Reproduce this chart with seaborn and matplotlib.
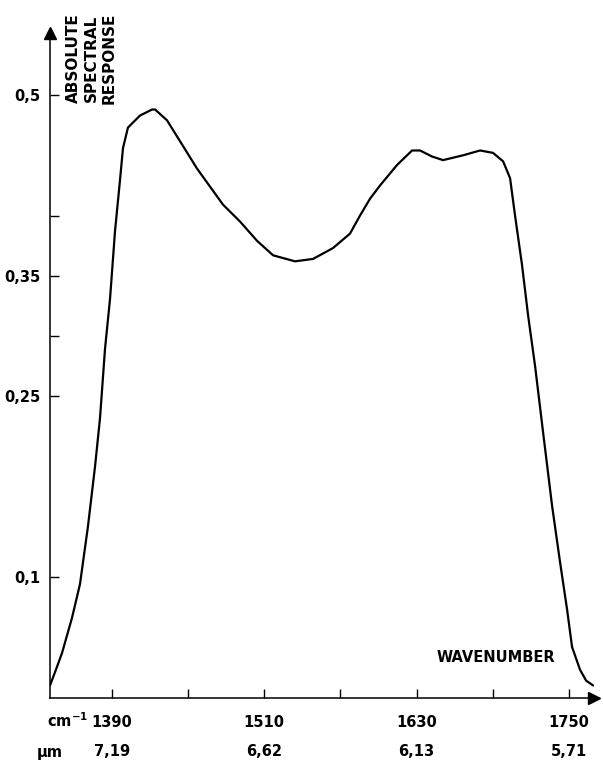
import numpy as np
import pandas as pd
import seaborn as sns
import matplotlib.pyplot as plt

# curve (wavenumber in cm-1, absolute spectral response)
wavenumber = [1341.2, 1345.5, 1350.7, 1358.5, 1364.8, 1371.1, 1376.7, 1380.6, 1384.5,
              1388.5, 1392.4, 1396.3, 1398.7, 1402.6, 1412.1, 1421.6, 1424.0,
              1433.4, 1457.0, 1477.5, 1490.9, 1504.3, 1516.9, 1534.2, 1548.4,
              1564.1, 1577.5, 1585.4, 1593.3, 1601.2, 1614.6, 1626.4, 1632.7,
              1642.1, 1650.8, 1666.6, 1680.0, 1690.2, 1698.1, 1703.6, 1707.5,
              1713.0, 1717.8, 1723.3, 1729.6, 1736.7, 1743.0, 1748.5, 1752.4,
              1758.7, 1763.5, 1769.0]
response = [0.010, 0.022, 0.037, 0.066, 0.094, 0.142, 0.192, 0.232, 0.289,
            0.331, 0.387, 0.429, 0.456, 0.473, 0.483, 0.488, 0.488,
            0.479, 0.439, 0.409, 0.395, 0.379, 0.367, 0.362, 0.364,
            0.373, 0.385, 0.400, 0.414, 0.425, 0.442, 0.454, 0.454,
            0.449, 0.446, 0.450, 0.454, 0.452, 0.445, 0.431, 0.400,
            0.359, 0.317, 0.275, 0.220, 0.159, 0.112, 0.073, 0.042,
            0.023, 0.014, 0.010]

x_ticks = [1390, 1450, 1510, 1570, 1630, 1690, 1750]
x_labels = ["1390", "", "1510", "", "1630", "", "1750"]
um_pos = [1390, 1510, 1630, 1750]
um_labels = ["7,19", "6,62", "6,13", "5,71"]
y_ticks = [0.1, 0.25, 0.3, 0.35, 0.4, 0.5]
y_labels = ["0,1", "0,25", "", "0,35", "", "0,5"]

sns.set_style("ticks")
plt.rcParams['font.family'] = ['DejaVu Sans']
plt.rcParams['font.weight'] = 'bold'
plt.rcParams['text.color'] = 'black'
plt.rcParams['xtick.color'] = 'black'
plt.rcParams['ytick.color'] = 'black'

W, H = 603, 763
fig = plt.figure(figsize=(W / 100, H / 100), dpi=100)
ax = fig.add_axes([50 / W, 1 - 697.5 / H, 544 / W, 664.5 / H])

df = pd.DataFrame({"wn": wavenumber, "r": response})
sns.lineplot(data=df, x="wn", y="r", color="black", linewidth=1.6, ax=ax)
ax.lines[0].set_solid_joinstyle("round")

ax.set_xlim(1341.2, 1769.7)
ax.set_ylim(0, 0.5515)
ax.set_xticks(x_ticks)
ax.set_xticklabels(x_labels)
ax.set_yticks(y_ticks)
ax.set_yticklabels(y_labels)
ax.tick_params(direction="in", length=6.5, width=1, labelsize=10.5,
               colors="black", labelcolor="black")
ax.tick_params(axis="x", pad=12.5)
ax.tick_params(axis="y", pad=7)
ax.set_xlabel("")
ax.set_ylabel("")
for side in ["top", "right"]:
    ax.spines[side].set_visible(False)
for side in ["left", "bottom"]:
    ax.spines[side].set_linewidth(1.1)
    ax.spines[side].set_color("black")

# axis arrows
ax.plot(1, 0, ">k", ms=8, transform=ax.transAxes, clip_on=False)
ax.plot(0, 1, "^k", ms=8, transform=ax.transAxes, clip_on=False)

# micrometre row
for p, lab in zip(um_pos, um_labels):
    ax.annotate(lab, xy=(p, 0), xycoords=("data", "axes fraction"),
                xytext=(0, -39), textcoords="offset points",
                ha="center", va="center", fontsize=10.5, fontweight="bold",
                color="black")

fig.text(47 / W, 1 - 721 / H, r"cm$^{\mathbf{-1}}$", ha="left", va="center",
         fontsize=10.5, fontweight="bold", color="black")
fig.text(37 / W, 1 - 752 / H, "µm", ha="left", va="center",
         fontsize=10.5, fontweight="bold", color="black")
fig.text(555 / W, 1 - 658 / H, "WAVENUMBER", ha="right", va="center",
         fontsize=10.5, fontweight="bold", color="black")
fig.text(91 / W, 1 - 58 / H, "ABSOLUTE\nSPECTRAL\nRESPONSE", rotation=90,
         ha="center", va="center", multialignment="center", linespacing=1.25,
         fontsize=11, fontweight="bold", color="black")

fig.savefig("out.png", dpi=100)
